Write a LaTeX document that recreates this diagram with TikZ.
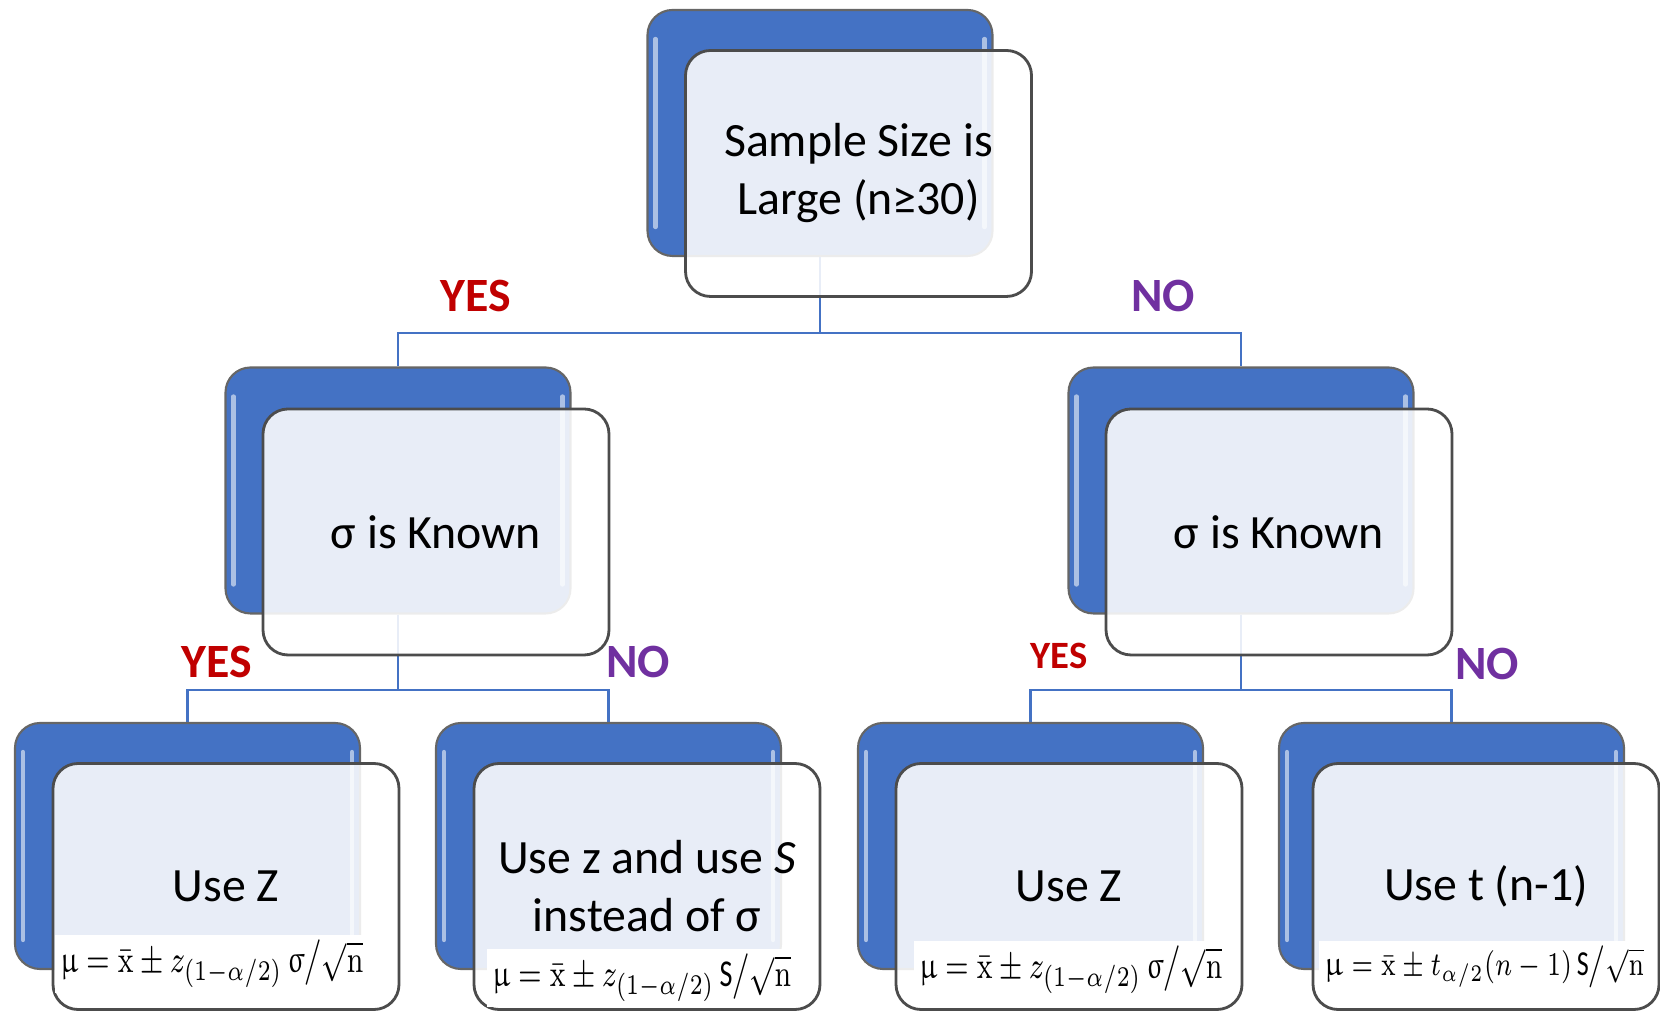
\documentclass[tikz,border=0pt]{standalone}
\usepackage{amsmath}
\usepackage{upgreek}
\usepackage{graphicx}
\usepackage[no-math]{fontspec}
\setmainfont{Carlito}
\usepackage{tikz}
\usetikzlibrary{positioning}
\definecolor{boxblue}{HTML}{4472C4}
\definecolor{yesred}{HTML}{C00000}
\definecolor{nopurple}{HTML}{7030A0}
\newcommand{\tallmath}[1]{\scalebox{1}[1.35]{$#1$}}

\begin{document}
\begin{tikzpicture}[
                back/.style={rectangle, rounded corners=0.25cm, draw=black!60, line width=0.6pt, fill=boxblue, minimum width=3.45cm, minimum height=2.46cm},
                front/.style={rectangle, rounded corners=0.25cm, draw=black!70, line width=0.8pt, fill=white, fill opacity=0.88, text opacity=1, minimum width=3.46cm, minimum height=2.46cm, align=center, font=\fontsize{13.6}{16.5}\selectfont},
                shine/.style={draw=white!55!boxblue, line width=1.2pt, line cap=round},
                conn/.style={draw=boxblue, line width=0.6pt},
                yes/.style={text=yesred, font=\fontsize{13.6}{16}\selectfont\bfseries},
                no/.style={text=nopurple, font=\fontsize{13.6}{16}\selectfont\bfseries},
                formula/.style={fill=white, inner sep=1.5pt, font=\fontsize{8}{10}\selectfont}
            ]

            \useasboundingbox (0,0) rectangle (16.6,10.11);

            % Back boxes
            \node[back] (B-0) at (8.2,8.78) {};

            \node[back] (B-1) at (3.98,5.205) {};
            \node[back] (B-2) at (12.41,5.205) {};

            \node[back] (B-11) at (1.875,1.65) {};
            \node[back] (B-12) at (6.085,1.65) {};
            \node[back] (B-21) at (10.305,1.65) {};
            \node[back] (B-22) at (14.515,1.65) {};

            % Edge highlights
            \foreach \n in {0,1,2,11,12,21,22}{
            \draw[shine] ([shift={(0.09,-0.3)}]B-\n.north west) -- ([shift={(0.09,0.3)}]B-\n.south west);
            \draw[shine] ([shift={(-0.09,-0.3)}]B-\n.north east) -- ([shift={(-0.09,0.3)}]B-\n.south east);
            }

            % Connections
            \coordinate (J-0) at (8.2,6.78);
            \coordinate (J-1) at (3.98,3.21);
            \coordinate (J-2) at (12.41,3.21);

            \draw[conn] (B-0) -- (J-0);
            \foreach \j in {1,2}
            \draw[conn] (J-0) -| (B-\j);

            \foreach \i in {1,2}
            {
            \draw[conn] (B-\i) -- (J-\i);
            \foreach \j in {1,2}
            \draw[conn] (J-\i) -| (B-\i\j);
            }

            % Front boxes
            \node[front] (F-0) at (8.585,8.375) {Sample Size is\\Large (n≥30)};

            \node[front] (F-1) at (4.36,4.79) {σ is Known};
            \node[front] (F-2) at (12.79,4.79) {σ is Known};

            \node[front] (F-11) at (2.26,1.245) {Use Z};
            \node[front] (F-12) at (6.47,1.245) {Use z and use \textit{S}\\instead of σ};
            \node[front] (F-21) at (10.69,1.245) {Use Z};
            \node[front] (F-22) at (14.86,1.245) {Use t (n-1)};

            % Formulas
            \node[formula] (eq-11) at (2.12,0.47) {\tallmath{\upmu = \bar{\mathrm{x}} \pm z_{(1-\alpha/2)}\,\upsigma\big/\sqrt{\mathrm{n}}}};
            \node[formula] (eq-12) at (6.42,0.33) {\tallmath{\upmu = \bar{\mathrm{x}} \pm z_{(1-\alpha/2)}\,\text{S}\big/\sqrt{\mathrm{n}}}};
            \node[formula] (eq-21) at (10.71,0.41) {\tallmath{\upmu = \bar{\mathrm{x}} \pm z_{(1-\alpha/2)}\,\upsigma\big/\sqrt{\mathrm{n}}}};
            \node[formula, font=\fontsize{7.4}{9}\selectfont] (eq-22) at (14.84,0.44) {\tallmath{\upmu = \bar{\mathrm{x}} \pm t_{\alpha/2}(n-1)\,\text{S}\big/\sqrt{\mathrm{n}}}};

            % Labels
            \node[yes] (yes-0) at (4.76,7.15) {YES};
            \node[no] (no-0) at (11.63,7.15) {NO};
            \node[yes] (yes-1) at (2.17,3.49) {YES};
            \node[no] (no-1) at (6.38,3.49) {NO};
            \node[yes, font=\fontsize{11}{13}\selectfont\bfseries] (yes-2) at (10.59,3.55) {YES};
            \node[no] (no-2) at (14.87,3.47) {NO};

        \end{tikzpicture}
\end{document}
